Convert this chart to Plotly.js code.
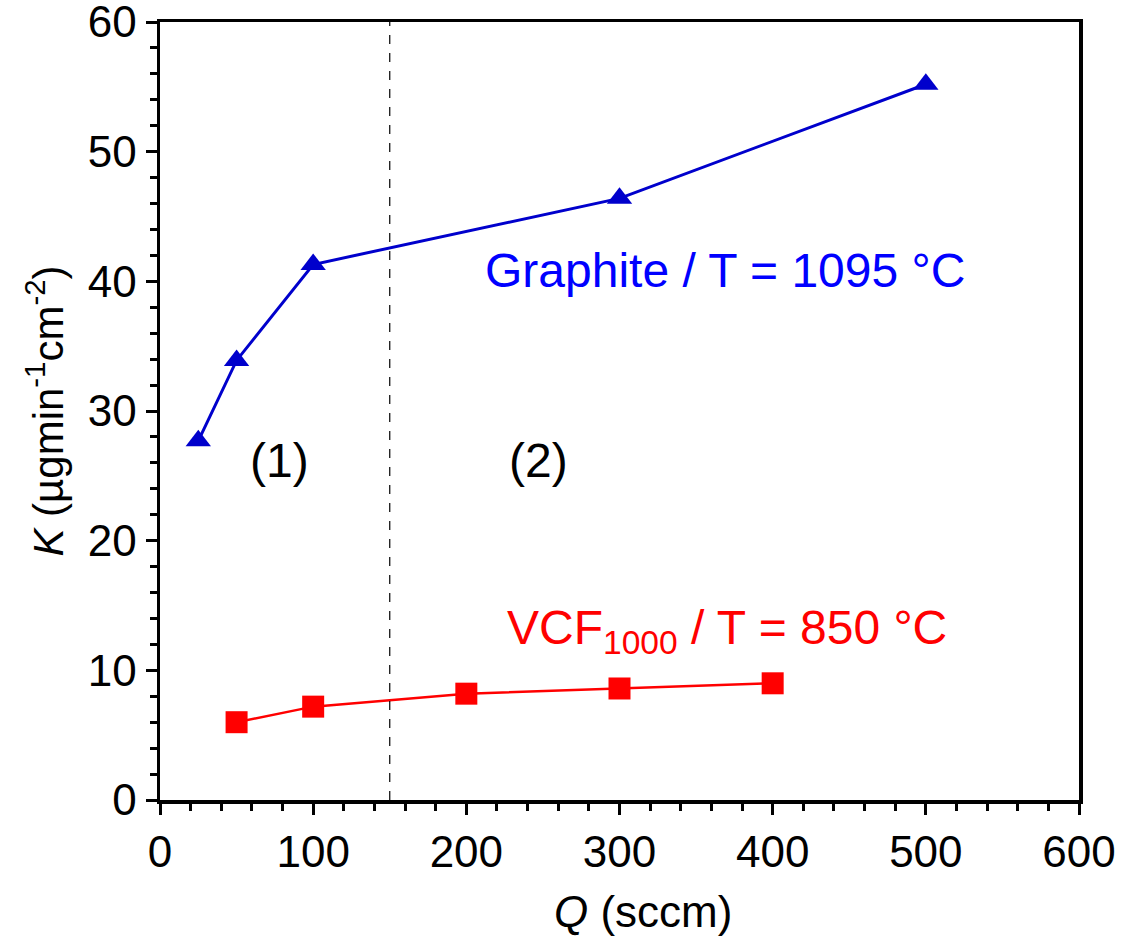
<!DOCTYPE html>
<html>
<head>
<meta charset="utf-8">
<script src="https://cdn.plot.ly/plotly-3.0.1.min.js"></script>
<style>body{margin:0;padding:0;background:#fff;}#chart{width:1122px;height:940px;}</style>
</head>
<body>
<div id="chart"></div>
<script>
// Data
const graphiteQ = [25, 50, 100, 300, 500];
const graphiteK = [27.7, 33.9, 41.3, 46.4, 55.2];
const vcfQ = [50, 100, 200, 300, 400];
const vcfK = [6.0, 7.2, 8.2, 8.6, 9.0];
const dividerQ = 150;
const xTicks = [0, 100, 200, 300, 400, 500, 600];
const yTicks = [0, 10, 20, 30, 40, 50, 60];
const labels = {
  graphite: "Graphite / T = 1095 °C",
  vcf: "VCF<sub>1000</sub> / T = 850 °C",
  region1: "(1)",
  region2: "(2)",
  xTitle: "<i>Q</i> (sccm)",
  yTitle: "<i>K</i> (µgmin<sup>-1</sup>cm<sup>-2</sup>)"
};

const font = "Arial, 'Liberation Sans', sans-serif";

const traces = [
  {
    x: graphiteQ, y: graphiteK, type: "scatter", mode: "lines+markers",
    line: {color: "#0000cc", width: 3},
    marker: {symbol: "triangle-up", size: 22, color: "#0000cc"},
    showlegend: false
  },
  {
    x: vcfQ, y: vcfK, type: "scatter", mode: "lines+markers",
    line: {color: "#ff0000", width: 2.5},
    marker: {symbol: "square", size: 22, color: "#ff0000"},
    showlegend: false
  }
];

const layout = {
  width: 1122, height: 940,
  margin: {l: 160, r: 43, t: 22, b: 140},
  paper_bgcolor: "#fff", plot_bgcolor: "#fff",
  font: {family: font, color: "#000", size: 44},
  xaxis: {
    range: [0, 600], tickvals: xTicks, ticktext: xTicks.map(String),
    ticks: "outside", ticklen: 11, tickwidth: 3, tickcolor: "#000",
    showline: true, linewidth: 3.5, linecolor: "#000", mirror: true,
    showgrid: false, zeroline: false, ticklabeloverflow: "allow",
    tickfont: {size: 44, family: font},
    minor: {dtick: 20, ticks: "outside", ticklen: 7, tickwidth: 3, tickcolor: "#000", showgrid: false}
  },
  yaxis: {
    range: [0, 60], tickvals: yTicks, ticktext: yTicks.map(String),
    ticks: "outside", ticklen: 11, tickwidth: 3, tickcolor: "#000",
    showline: true, linewidth: 3.5, linecolor: "#000", mirror: true,
    showgrid: false, zeroline: false, ticklabeloverflow: "allow",
    tickfont: {size: 44, family: font},
    minor: {dtick: 2, ticks: "outside", ticklen: 7, tickwidth: 3, tickcolor: "#000", showgrid: false},
    title: {text: labels.yTitle, font: {size: 42, family: font}, standoff: 12}
  },
  shapes: [
    {type: "line", xref: "x", yref: "y", x0: dividerQ, x1: dividerQ, y0: 0, y1: 60,
     line: {color: "#000", width: 1.2, dash: "dash"}}
  ],
  annotations: [
    {x: 0.526, y: -0.143, xref: "paper", yref: "paper", text: labels.xTitle, showarrow: false,
     yanchor: "middle", font: {size: 44, color: "#000", family: font}},
    {x: 369, y: 40.8, xref: "x", yref: "y", text: labels.graphite, showarrow: false,
     font: {size: 48, color: "#0000ff", family: font}},
    {x: 370, y: 13.0, xref: "x", yref: "y", text: labels.vcf, showarrow: false,
     font: {size: 48, color: "#ff0000", family: font}},
    {x: 78, y: 26.2, xref: "x", yref: "y", text: labels.region1, showarrow: false,
     font: {size: 48, color: "#000", family: font}},
    {x: 247, y: 26.2, xref: "x", yref: "y", text: labels.region2, showarrow: false,
     font: {size: 48, color: "#000", family: font}}
  ]
};

Plotly.newPlot("chart", traces, layout, {displayModeBar: false, staticPlot: true});
</script>
</body>
</html>
